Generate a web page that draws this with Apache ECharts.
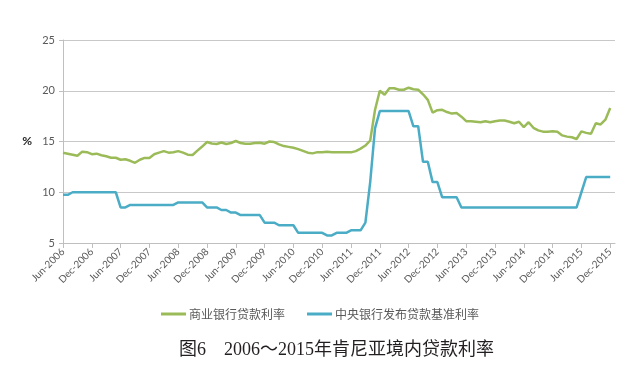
<!DOCTYPE html>
<html>
<head>
<meta charset="utf-8">
<script src="https://cdn.jsdelivr.net/npm/echarts@6/dist/echarts.min.js"></script>
<style>
html,body{margin:0;padding:0;background:#fff;}
#chart{width:640px;height:367px;}
</style>
</head>
<body>
<div id="chart"></div>
<script>
// Monthly categories Jun-2006 .. Jan-2016 (labels every 6 months)
const monthNames = ['Jan','Feb','Mar','Apr','May','Jun','Jul','Aug','Sep','Oct','Nov','Dec'];
const categories = [];
for (let i = 0; i < 116; i++) {
  const mIdx = (5 + i) % 12;
  const yr = 2006 + Math.floor((5 + i) / 12);
  categories.push(monthNames[mIdx] + '-' + yr);
}

// 商业银行贷款利率 (commercial bank lending rate, %)
const commercialRate = [
  13.9, 13.8, 13.7, 13.6, 14.0, 13.95, 13.75, 13.8, 13.65, 13.55,
  13.4, 13.4, 13.2, 13.25, 13.1, 12.9, 13.2, 13.38, 13.38, 13.75,
  13.9, 14.05, 13.9, 13.95, 14.05, 13.9, 13.7, 13.67, 14.1, 14.5,
  14.95, 14.8, 14.75, 14.9, 14.75, 14.85, 15.05, 14.85, 14.77, 14.77,
  14.85, 14.87, 14.78, 15.0, 14.95, 14.72, 14.55, 14.47, 14.38, 14.25,
  14.08, 13.9, 13.83, 13.95, 13.93, 14.0, 13.93, 13.93, 13.93, 13.93,
  13.93, 14.05, 14.3, 14.6, 15.1, 18.1, 20.0, 19.6, 20.25, 20.25,
  20.1, 20.1, 20.3, 20.15, 20.1, 19.65, 19.1, 17.85, 18.08, 18.12,
  17.9, 17.75, 17.8, 17.45, 17.0, 17.0, 16.95, 16.9, 17.0, 16.9,
  17.0, 17.07, 17.07, 16.95, 16.8, 16.95, 16.42, 16.9, 16.35, 16.1,
  15.97, 15.96, 16.0, 15.95, 15.6, 15.48, 15.42, 15.25, 16.0, 15.85,
  15.77, 16.8, 16.68, 17.15, 18.3, null
];

// 中央银行发布贷款基准利率 (central bank rate, %)
const centralRate = [
  9.75, 9.75, 10, 10, 10, 10, 10, 10, 10, 10,
  10, 10, 8.5, 8.5, 8.75, 8.75, 8.75, 8.75, 8.75, 8.75,
  8.75, 8.75, 8.75, 8.75, 9.0, 9.0, 9.0, 9.0, 9.0, 9.0,
  8.5, 8.5, 8.5, 8.25, 8.25, 8.0, 8.0, 7.75, 7.75, 7.75,
  7.75, 7.75, 7.0, 7.0, 7.0, 6.75, 6.75, 6.75, 6.75, 6.0,
  6.0, 6.0, 6.0, 6.0, 6.0, 5.75, 5.75, 6.0, 6.0, 6.0,
  6.25, 6.25, 6.25, 7.0, 11.0, 16.3, 18.0, 18.0, 18.0, 18.0,
  18.0, 18.0, 18.0, 16.5, 16.5, 13.0, 13.0, 11.0, 11.0, 9.5,
  9.5, 9.5, 9.5, 8.5, 8.5, 8.5, 8.5, 8.5, 8.5, 8.5,
  8.5, 8.5, 8.5, 8.5, 8.5, 8.5, 8.5, 8.5, 8.5, 8.5,
  8.5, 8.5, 8.5, 8.5, 8.5, 8.5, 8.5, 8.5, 10.0, 11.5,
  11.5, 11.5, 11.5, 11.5, 11.5, null
];

const yTicks = { min: 5, max: 25, interval: 5 };
const seriesNames = ['商业银行贷款利率', '中央银行发布贷款基准利率'];
const captionText = '图6　2006～2015年肯尼亚境内贷款利率';

const chart = echarts.init(document.getElementById('chart'), null, { renderer: 'canvas' });
const labelFont = 'Lato, "Open Sans", "Noto Sans", sans-serif';
const showIdx = (i) => i % 6 === 0 && i <= 114;

chart.setOption({
  animation: false,
  backgroundColor: '#ffffff',
  title: {
    text: captionText,
    left: 174,
    top: 336,
    textStyle: {
      fontFamily: '"Liberation Serif", "Noto Sans CJK SC", serif',
      fontSize: 18,
      fontWeight: 'normal',
      color: '#231f20'
    }
  },
  legend: {
    data: seriesNames,
    left: 'center',
    top: 303,
    icon: 'rect',
    itemWidth: 25,
    itemHeight: 3,
    itemGap: 22,
    textStyle: {
      fontFamily: '"Noto Sans CJK SC", sans-serif',
      fontSize: 12,
      color: '#595959',
      padding: [0, 0, 0, -2]
    }
  },
  grid: { left: 63, right: 25, top: 40, bottom: 124, containLabel: false },
  xAxis: {
    type: 'category',
    data: categories,
    boundaryGap: false,
    axisLine: { show: true, lineStyle: { color: '#bfbfbf', width: 1 } },
    axisTick: { show: true, interval: (i) => showIdx(i), length: 5, lineStyle: { color: '#bfbfbf' } },
    axisLabel: {
      interval: (i) => showIdx(i),
      rotate: 45,
      fontSize: 10,
      fontFamily: labelFont,
      color: '#595959',
      margin: 7
    },
    splitLine: { show: false }
  },
  yAxis: {
    type: 'value',
    min: yTicks.min,
    max: yTicks.max,
    interval: yTicks.interval,
    name: '%',
    nameLocation: 'middle',
    nameRotate: 0,
    nameGap: 31,
    nameTextStyle: { fontFamily: labelFont, fontSize: 12, fontWeight: 'bold', color: '#262626' },
    axisLine: { show: true, lineStyle: { color: '#bfbfbf', width: 1 } },
    axisTick: { show: true, length: 4, lineStyle: { color: '#bfbfbf' } },
    axisLabel: { fontSize: 11, fontFamily: labelFont, color: '#595959', margin: 8 },
    splitLine: { show: true, lineStyle: { color: '#c8c8c8', width: 1 } }
  },
  series: [
    {
      name: seriesNames[0],
      type: 'line',
      data: commercialRate,
      showSymbol: false,
      symbol: 'none',
      connectNulls: false,
      lineStyle: { color: '#9bbb59', width: 2.5 },
      itemStyle: { color: '#9bbb59' }
    },
    {
      name: seriesNames[1],
      type: 'line',
      data: centralRate,
      showSymbol: false,
      symbol: 'none',
      connectNulls: false,
      lineStyle: { color: '#4bacc6', width: 2.5 },
      itemStyle: { color: '#4bacc6' }
    }
  ]
});
</script>
</body>
</html>
